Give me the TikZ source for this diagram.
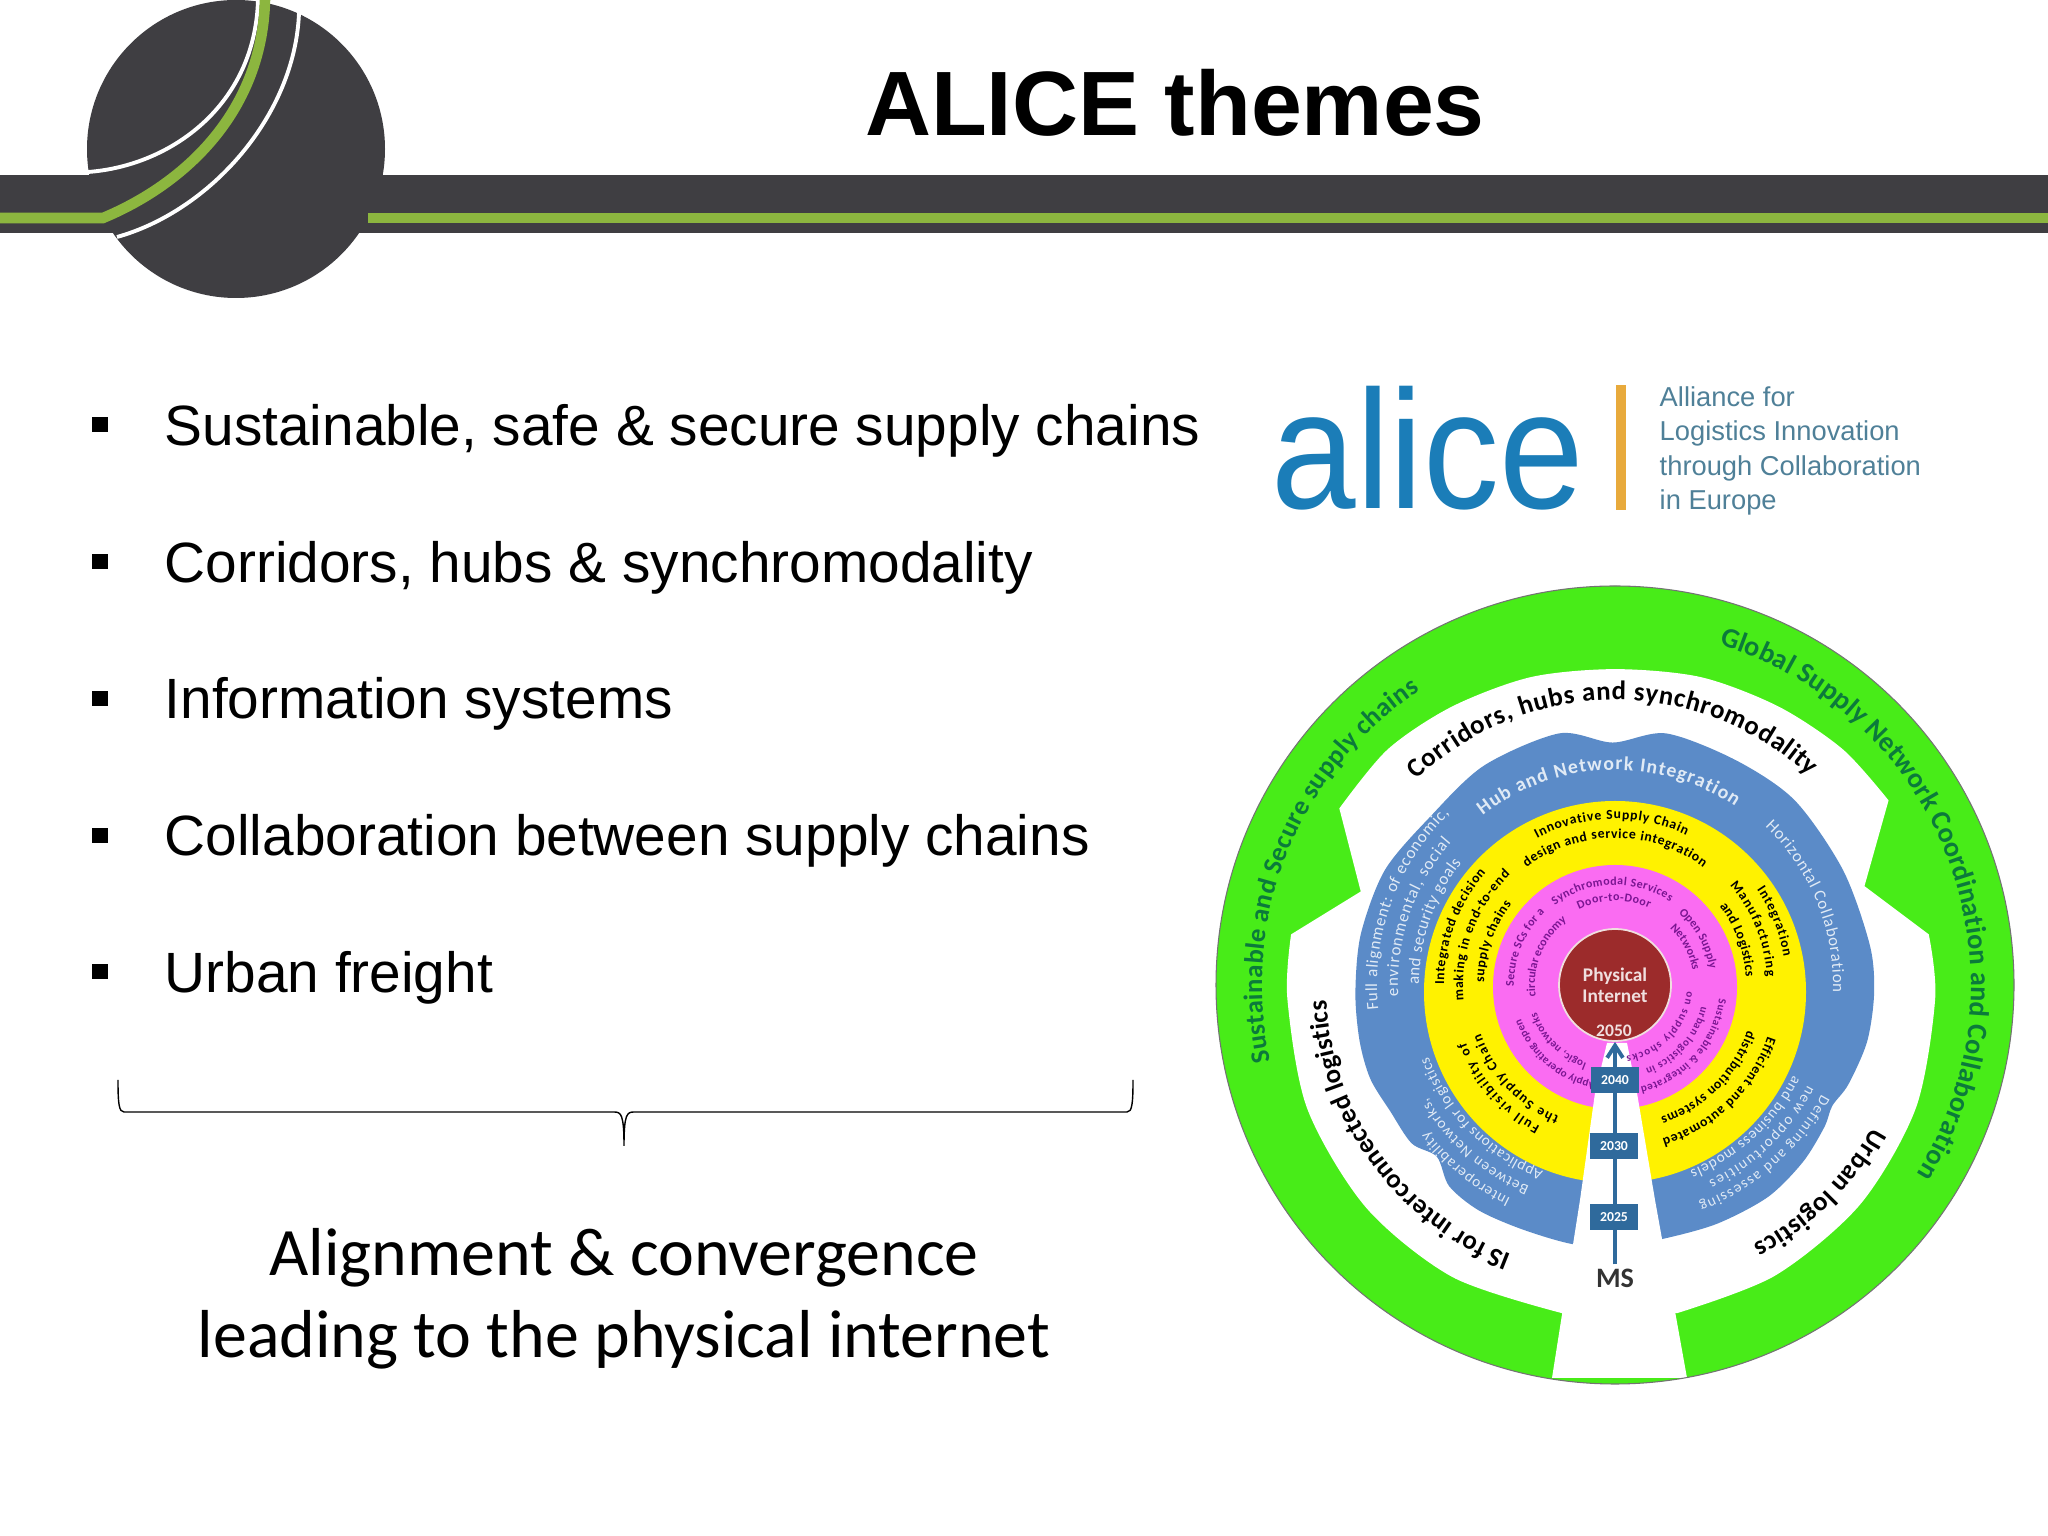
\documentclass[tikz,border=0pt]{standalone}
\usepackage{fontspec}
\setmainfont{Carlito}
\setsansfont{Liberation Sans}
\usetikzlibrary{arrows.meta,decorations.text}

\definecolor{bardark}{HTML}{3F3E42}
\definecolor{barlime}{HTML}{8CB63F}
\definecolor{ringgreen}{HTML}{48EC18}
\definecolor{textgreen}{HTML}{0B7A3B}
\definecolor{hubblue}{HTML}{5B8BC8}
\definecolor{hubtext}{HTML}{E0EAF5}
\definecolor{softpink}{HTML}{FA6CF2}
\definecolor{softpurple}{HTML}{7A1592}
\definecolor{brick}{HTML}{9C2B2B}
\definecolor{roadblue}{HTML}{2F6A9C}
\definecolor{logoblue}{HTML}{1B7DB8}
\definecolor{logogrey}{HTML}{4F8098}
\definecolor{logobar}{HTML}{E8AA3C}

\newcommand{\greenfont}{\color{textgreen}\bfseries\fontsize{8}{9}\selectfont}
\newcommand{\greenlow}{\color{textgreen}\bfseries\fontsize{7.6}{9}\selectfont}
\newcommand{\blackfont}{\color{black}\bfseries\fontsize{7.6}{8}\selectfont}
\newcommand{\hubfont}{\color{hubtext}\bfseries\fontsize{5.6}{6}\selectfont}
\newcommand{\smallfont}{\color{hubtext}\fontsize{4.8}{5}\selectfont}
\newcommand{\smalllow}{\color{hubtext}\fontsize{4.3}{5}\selectfont}
\newcommand{\yellowfont}{\color{black}\bfseries\fontsize{3.9}{4}\selectfont}
\newcommand{\pinkfont}{\color{softpurple}\bfseries\fontsize{3.4}{4}\selectfont}
\newcommand{\pinklow}{\color{softpurple}\bfseries\fontsize{3.15}{4}\selectfont}
% radius, start angle, end angle, font, words
\newcommand{\ringtext}[5]{\path[decorate,decoration={text along path,text align={fit to path},text={|#4|#5}}] (ctr) ++(#2:#1) arc[start angle=#2,end angle=#3,radius=#1];}

\begin{document}
\begin{tikzpicture}[x=0.01cm,y=0.01cm]
            \tikzstyle{bullet node}=[rectangle,fill=black,inner sep=0,minimum size=0.15cm]
            \tikzstyle{list text}=[anchor=base west,inner sep=0,font=\sffamily\fontsize{16.15}{18}\selectfont]
            \tikzstyle{year box}=[rectangle,fill=roadblue,text=white,inner sep=0,minimum width=0.48cm,minimum height=0.26cm,font=\bfseries\fontsize{3.9}{4}\selectfont]

            \useasboundingbox (0,0) rectangle (2048,1536);
            \fill[white] (0,0) rectangle (2048,1536);

            % header band and disk
            \fill[bardark] (0,1303) rectangle (2048,1361);
            \fill[bardark] (236,1387) circle[radius=149];
            \fill[barlime] (368,1313) rectangle (2048,1323);
            \draw[white,line width=1.1pt] (88,1364) .. controls (170,1370) and (255,1430) .. (258,1536);
            \draw[white,line width=1.1pt] (117,1299) .. controls (210,1325) and (295,1420) .. (299,1523);
            \draw[barlime,line width=3pt] (0,1318) -- (103,1318) .. controls (180,1350) and (262,1420) .. (265,1536);
            \node (title) [anchor=base,inner sep=0,font=\sffamily\bfseries\fontsize{26}{30}\selectfont] at (1175,1400) {ALICE themes};

            % list on the left
            \node (b1) [bullet node] at (100,1111) {};
            \node (b2) [bullet node] at (100,974) {};
            \node (b3) [bullet node] at (100,837) {};
            \node (b4) [bullet node] at (100,700) {};
            \node (b5) [bullet node] at (100,564) {};
            \node (t1) [list text] at (164,1090) {Sustainable, safe \& secure supply chains};
            \node (t2) [list text] at (164,953) {Corridors, hubs \& synchromodality};
            \node (t3) [list text] at (164,817) {Information systems};
            \node (t4) [list text] at (164,680) {Collaboration between supply chains};
            \node (t5) [list text] at (164,543) {Urban freight};

            % brace
            \draw[line width=0.4pt] (118,456) .. controls (118,432) and (119,424) .. (124,424) -- (614,424) .. controls (621,424) and (624,422) .. (624,390) .. controls (624,422) and (627,424) .. (634,424) -- (1127,424) .. controls (1132,424) and (1133,432) .. (1133,456);
            \node (goal) [align=center,inner sep=0,font=\fontsize{19.3}{23.3}\selectfont] at (624,237) {Alignment \& convergence\\leading to the physical internet};

            % logo
            \node (alice) [anchor=base west,inner sep=0,text=logoblue,font=\sffamily\fontsize{48}{50}\selectfont] at (1271,1027) {\scalebox{0.9}[1]{alice}};
            \fill[logobar] (1616,1026) rectangle (1626,1151);
            \node (alliance) [anchor=south west,inner sep=0,align=left,text=logogrey,font=\sffamily\fontsize{7.77}{9.8}\selectfont] at (1659,1020) {Alliance for\\Logistics Innovation\\through Collaboration\\in Europe};

            % rings
            \coordinate (ctr) at (1615,551);
            \fill[ringgreen] (ctr) circle[radius=399];
            \begin{scope}[shift={(1200,966)},x=0.005357cm,y=-0.005357cm]
            \fill[white] plot[smooth] coordinates {(260,445) (350,335) (470,255) (617,200) (775,185) (935,200) (1080,255) (1200,335) (1285,430)}
                -- (1240,590)
                -- plot[smooth] coordinates {(1360,680) (1372,800) (1336,1004) (1232,1184) (1073,1317) (890,1387)}
                -- (676,1387)
                -- plot[smooth] coordinates {(676,1387) (472,1320) (310,1190) (200,1005) (163,800) (170,680)}
                -- (300,600) -- cycle;
            \fill[hubblue] plot[smooth cycle] coordinates {(780,1262) (695,1258) (600,1230) (520,1195) (465,1150) (442,1095) (395,1070) (355,1010) (318,950) (298,880) (290,790) (300,680) (345,560) (430,460) (530,365) (670,305) (770,322) (870,305) (1000,355) (1110,430) (1200,560) (1250,700) (1258,790) (1245,880) (1210,960) (1180,1000) (1165,1040) (1125,1105) (1060,1170) (965,1220) (865,1248)};
            \end{scope}
            \fill[yellow] (1615,544) circle[radius=191];
            \fill[softpink] (1615,549) circle[radius=122];

            % way in from the bottom
            \fill[white] (1607,493) -- (1627,493) -- (1637,443) -- (1655,336) -- (1687,158) -- (1552,158) -- (1580,336) -- (1595,443) -- cycle;
            \draw[black!55,line width=0.3pt] (ctr) circle[radius=399];

            % words on the rings
            \ringtext{356}{73}{-32}{\greenfont}{Global Supply Network Coordination and Collaboration}
            \ringtext{353}{192.5}{123.5}{\greenlow}{Sustainable and Secure supply chains}
            \ringtext{285}{134}{47}{\blackfont}{Corridors, hubs and synchromodality}
            \ringtext{289}{249}{183}{\blackfont}{IS for interconnected logistics}
            \ringtext{294}{-29}{-62}{\blackfont}{Urban logistics}

            \ringtext{215}{128}{56}{\hubfont}{Hub and Network Integration}
            \ringtext{218}{46.5}{-2}{\smallfont}{Horizontal Collaboration}
            \ringtext{238}{186}{134}{\smallfont}{Full alignment: of economic,}
            \ringtext{217}{183}{139}{\smallfont}{environmental, social}
            \ringtext{196}{180}{141.5}{\smallfont}{and security goals}
            \ringtext{238}{244}{218}{\smalllow}{Interoperability}
            \ringtext{219}{247}{211}{\smalllow}{Between Networks,}
            \ringtext{200}{249}{201}{\smalllow}{Applications for logistics}
            \ringtext{234}{-28}{-69}{\smalllow}{Defining and assessing}
            \ringtext{217}{-27.5}{-64.5}{\smalllow}{new opportunities}
            \ringtext{200}{-27}{-68}{\smalllow}{and business models}

            \ringtext{166}{118}{64.5}{\yellowfont}{Innovative Supply Chain}
            \ringtext{147}{127}{53}{\yellowfont}{design and service integration}
            \ringtext{171}{180}{139}{\yellowfont}{Integrated decision}
            \ringtext{152}{186}{133.5}{\yellowfont}{making in end-to-end}
            \ringtext{131}{179}{142}{\yellowfont}{supply chains}
            \ringtext{171}{34}{9.5}{\yellowfont}{Integration}
            \ringtext{152}{41}{3}{\yellowfont}{Manufacturing}
            \ringtext{131}{37}{3.5}{\yellowfont}{and Logistics}
            \ringtext{161}{-18.5}{-73}{\yellowfont}{Efficient and automated}
            \ringtext{140}{-19}{-71}{\yellowfont}{distribution systems}
            \ringtext{160}{242}{201}{\yellowfont}{Full visibility of}
            \ringtext{143}{247}{200}{\yellowfont}{the Supply Chain}

            \ringtext{100}{127}{56.5}{\pinkfont}{Synchromodal Services}
            \ringtext{84}{115.5}{66}{\pinkfont}{Door-to-Door}
            \ringtext{101}{181}{134}{\pinkfont}{Secure SCs for a}
            \ringtext{80}{188}{128}{\pinkfont}{circular economy}
            \ringtext{96}{48.5}{9.5}{\pinkfont}{Open Supply}
            \ringtext{79}{46}{10.5}{\pinkfont}{Networks}
            \ringtext{105}{-7.5}{-76}{\pinklow}{Sustainable {\&} integrated}
            \ringtext{89}{-14}{-70}{\pinklow}{urban logistics in}
            \ringtext{72}{-5}{-81}{\pinklow}{on supply shocks}
            \ringtext{100}{259}{200}{\pinklow}{Apply operating open}
            \ringtext{83}{250}{199}{\pinklow}{logic, networks}

            % centre and years
            \node (phys) [circle,fill=brick,draw=white!85!brick,line width=0.5pt,inner sep=0,minimum size=1.12cm,align=center,text=white!85!brick,font=\bfseries\fontsize{5.5}{6}\selectfont] at (1615,551) {Physical\\Internet};
            \node (end) [inner sep=0,text=white!85!brick,font=\bfseries\fontsize{5}{6}\selectfont] at (1614,505) {2050};
            \node (ms) [inner sep=1pt,text=black!80,font=\bfseries\fontsize{8}{9}\selectfont] at (1615,258) {MS};
            \draw[roadblue,line width=1.1pt,-{Straight Barb[length=3.5pt,width=4.5pt]}] (ms) -- (phys);
            \node (y2040) [year box] at (1615,456) {2040};
            \node (y2030) [year box] at (1614,390) {2030};
            \node (y2025) [year box] at (1614,319) {2025};
\end{tikzpicture}
\end{document}
